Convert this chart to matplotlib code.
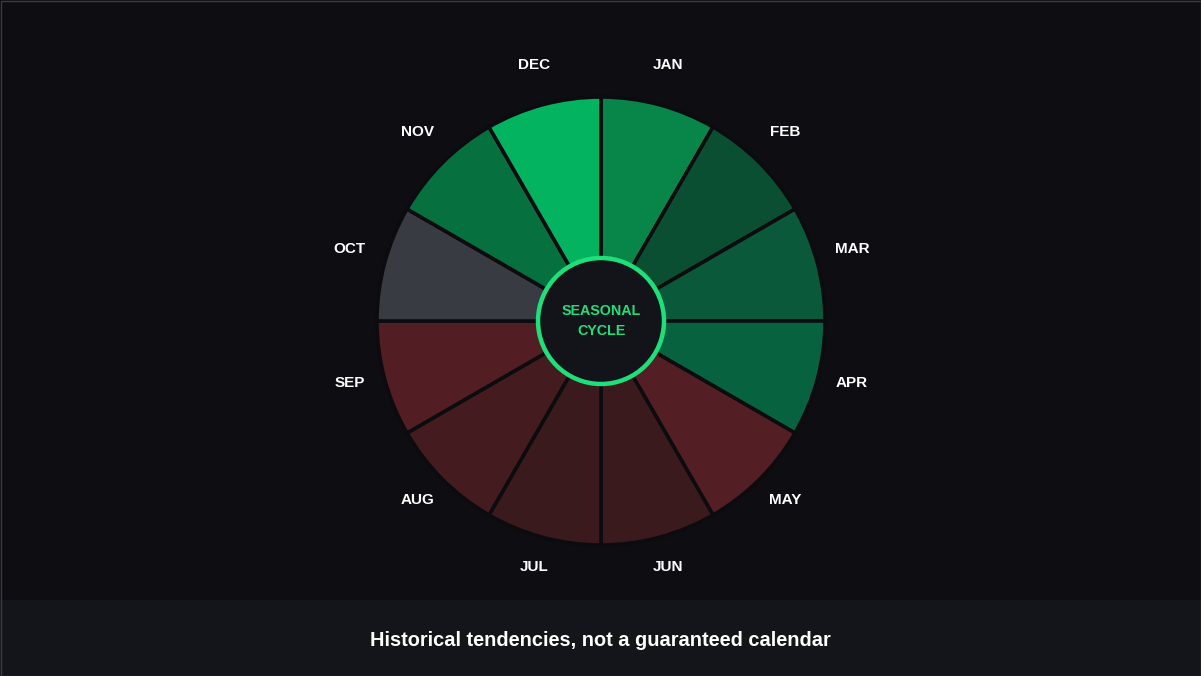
import numpy as np
import matplotlib.pyplot as plt
from matplotlib.patches import Wedge, Circle, Rectangle

plt.rcParams['font.family'] = ['Liberation Sans', 'DejaVu Sans']

months = ['JAN', 'FEB', 'MAR', 'APR', 'MAY', 'JUN',
          'JUL', 'AUG', 'SEP', 'OCT', 'NOV', 'DEC']
# seasonal tendency per month (positive = green, negative = red)
tendency = [0.6, 0.25, 0.3, 0.35, -0.5, -0.3, -0.3, -0.4, -0.5, 0.0, 0.45, 0.9]
colors = ['#088649', '#0b4f32', '#09593a', '#07633f', '#541f24', '#3b1a1d',
          '#3b1a1d', '#441c1f', '#521e24', '#383b42', '#07703f', '#03b360']
center_text = 'SEASONAL\nCYCLE'
footer = 'Historical tendencies, not a guaranteed calendar'

W, H = 1201, 676
fig = plt.figure(figsize=(W / 100, H / 100), dpi=100)
fig.patch.set_facecolor('#0e0d12')
ax = fig.add_axes([0, 0, 1, 1])
ax.set_xlim(0, W)
ax.set_ylim(0, H)
ax.set_aspect('equal')
ax.axis('off')

cx, cy = 601, H - 321
r_out, r_in = 224, 63

# footer band
ax.add_patch(Rectangle((0, 0), W, 76, facecolor='#14151a', edgecolor='none'))

step = 360 / len(months)
for i, (m, c) in enumerate(zip(months, colors)):
    # clockwise from 12 o'clock
    a1 = 90 - i * step
    a0 = a1 - step
    ax.add_patch(Wedge((cx, cy), r_out, a0, a1, facecolor=c,
                       edgecolor='#0c0c10', linewidth=2.6))
    mid = np.deg2rad((a0 + a1) / 2)
    ax.text(cx + 260 * np.cos(mid), cy + 5 + 260 * np.sin(mid), m,
            color='white', fontsize=11, fontweight='bold',
            ha='center', va='center')

ax.add_patch(Circle((cx, cy), r_in, facecolor='#121419',
                    edgecolor='#1ee07a', linewidth=3.2, zorder=5))
ax.text(cx, cy, center_text, color='#1ee07a', fontsize=10.3,
        fontweight='bold', ha='center', va='center', linespacing=1.5,
        zorder=6)

ax.text(W / 2, 36, footer, color='white', fontsize=14.4,
        fontweight='bold', ha='center', va='center')

# thin outer border
ax.add_patch(Rectangle((0.5, 0.5), W - 1, H - 1, facecolor='none',
                       edgecolor='#3a3a40', linewidth=1))

fig.savefig('out.png', dpi=100, facecolor=fig.get_facecolor())
